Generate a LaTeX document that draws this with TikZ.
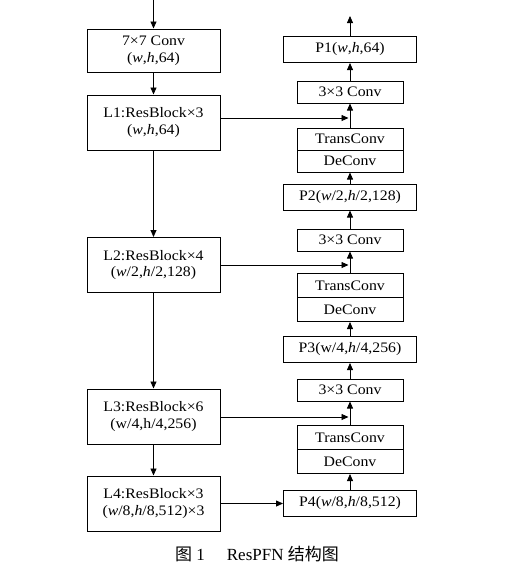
\documentclass[tikz,border=0pt]{standalone}
\usepackage{fontspec}
\setmainfont[FakeStretch=1.09]{Liberation Serif}
\newfontfamily\capfont{Liberation Serif}
\newfontfamily\cjk{Noto Sans CJK SC}
\usetikzlibrary{arrows.meta,positioning}

\begin{document}
\begin{tikzpicture}[x=1pt,y=-1pt,
  >={Triangle[length=7pt,width=6pt]},
  every path/.style={line width=0.8pt},
  blk/.style={draw, line width=1pt, align=center, inner sep=0pt,
    font=\fontsize{14.5}{16.5}\selectfont},
  lblk/.style={blk, minimum width=133pt, minimum height=55pt},
  pblk/.style={blk, minimum width=133pt, minimum height=26pt},
  cblk/.style={blk, minimum width=106pt, minimum height=22pt},
  tblk/.style={blk, minimum width=106pt, minimum height=24pt}]
  \useasboundingbox (0,0) rectangle (515,566);
  %% 1. Backbone
  \node[lblk, minimum height=43pt] (conv7) at (153.5,50.5) {7×7 Conv\\(\textit{w},\textit{h},64)};
  \node[lblk] (L1) at (153.5,122.5) {L1:ResBlock×3\\(\textit{w},\textit{h},64)};
  \node[lblk] (L2) at (153.5,265) {L2:ResBlock×4\\(\textit{w}/2,\textit{h}/2,128)};
  \node[lblk] (L3) at (153.5,416.5) {L3:ResBlock×6\\(w/4,h/4,256)};
  \node[lblk] (L4) at (153.5,503.5) {L4:ResBlock×3\\(\textit{w}/8,\textit{h}/8,512)×3};
  %% 2. Pyramid
  \node[pblk] (P1) at (350,49.5) {P1(\textit{w},\textit{h},64)};
  \node[cblk] (c1) at (350,92) {3×3 Conv};
  \node[tblk, minimum height=22pt] (t1) at (350,139) {TransConv};
  \node[tblk, minimum height=22pt] (d1) at (350,161) {DeConv};
  \node[pblk] (P2) at (350,197) {P2(\textit{w}/2,\textit{h}/2,128)};
  \node[cblk] (c2) at (350,240) {3×3 Conv};
  \node[tblk] (t2) at (350,285.5) {TransConv};
  \node[tblk] (d2) at (350,309.5) {DeConv};
  \node[pblk] (P3) at (350,349.5) {P3(w/4,\textit{h}/4,256)};
  \node[cblk] (c3) at (350,390) {3×3 Conv};
  \node[tblk] (t3) at (350,437.5) {TransConv};
  \node[tblk] (d3) at (350,461.5) {DeConv};
  \node[pblk] (P4) at (350,503.5) {P4(\textit{w}/8,\textit{h}/8,512)};
  %% 3. Arrows
  \coordinate (in) at (153.5,0);
  \coordinate (out) at (350,16);
  \coordinate (j1) at (348.5,118);
  \coordinate (j2) at (348.5,265);
  \coordinate (j3) at (348.5,417);
  \draw[->] (in) -- (conv7);
  \draw[->] (conv7) -- (L1);
  \draw[->] (L1) -- (L2);
  \draw[->] (L2) -- (L3);
  \draw[->] (L3) -- (L4);
  \draw[->] (L4) -- (P4);
  \draw[->] (P4) -- (d3);
  \draw[->] (t3) -- (c3);
  \draw[->] (c3) -- (P3);
  \draw[->] (P3) -- (d2);
  \draw[->] (t2) -- (c2);
  \draw[->] (c2) -- (P2);
  \draw[->] (P2) -- (d1);
  \draw[->] (t1) -- (c1);
  \draw[->] (c1) -- (P1);
  \draw[->] (P1) -- (out);
  \draw[->] (L1.east |- j1) -- (j1);
  \draw[->] (L2.east |- j2) -- (j2);
  \draw[->] (L3.east |- j3) -- (j3);
  %% 4. Caption
  \node[font=\capfont\fontsize{17}{19}\selectfont] (cap) at (257,554)
    {{\cjk 图}~1\hspace{22pt}ResPFN~{\cjk 结构图}};
\end{tikzpicture}
\end{document}
